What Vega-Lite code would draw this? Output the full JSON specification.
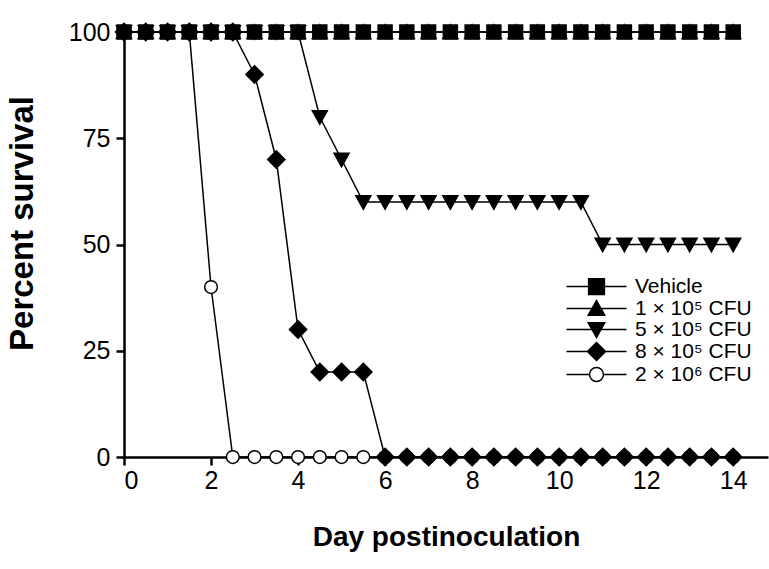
{
  "$schema": "https://vega.github.io/schema/vega-lite/v6.json",
  "width": 644,
  "height": 425,
  "autosize": {"type": "none"},
  "padding": {"left": 124, "top": 32, "right": 1, "bottom": 112},
  "background": "white",
  "config": {
    "font": "Liberation Sans",
    "view": {"stroke": null},
    "axis": {
      "domainColor": "black", "domainWidth": 2.5, "tickColor": "black", "tickWidth": 2.5,
      "tickSize": 8, "labelColor": "black", "labelFontSize": 25, "labelFont": "Liberation Sans",
      "titleColor": "black", "titleFontSize": 28, "titleFontWeight": "bold", "titleFont": "Liberation Sans",
      "grid": false
    }
  },
  "data": {"values": [
    {"day": 0, "pct": 100, "series": "2e6"}, {"day": 0.5, "pct": 100, "series": "2e6"}, {"day": 1, "pct": 100, "series": "2e6"}, {"day": 1.5, "pct": 100, "series": "2e6"}, {"day": 2, "pct": 40, "series": "2e6"}, {"day": 2.5, "pct": 0, "series": "2e6"}, {"day": 3, "pct": 0, "series": "2e6"}, {"day": 3.5, "pct": 0, "series": "2e6"}, {"day": 4, "pct": 0, "series": "2e6"}, {"day": 4.5, "pct": 0, "series": "2e6"}, {"day": 5, "pct": 0, "series": "2e6"}, {"day": 5.5, "pct": 0, "series": "2e6"}, {"day": 6, "pct": 0, "series": "2e6"}, {"day": 6.5, "pct": 0, "series": "2e6"}, {"day": 7, "pct": 0, "series": "2e6"}, {"day": 7.5, "pct": 0, "series": "2e6"}, {"day": 8, "pct": 0, "series": "2e6"}, {"day": 8.5, "pct": 0, "series": "2e6"}, {"day": 9, "pct": 0, "series": "2e6"}, {"day": 9.5, "pct": 0, "series": "2e6"}, {"day": 10, "pct": 0, "series": "2e6"}, {"day": 10.5, "pct": 0, "series": "2e6"}, {"day": 11, "pct": 0, "series": "2e6"}, {"day": 11.5, "pct": 0, "series": "2e6"}, {"day": 12, "pct": 0, "series": "2e6"}, {"day": 12.5, "pct": 0, "series": "2e6"}, {"day": 13, "pct": 0, "series": "2e6"}, {"day": 13.5, "pct": 0, "series": "2e6"}, {"day": 14, "pct": 0, "series": "2e6"},
    {"day": 0, "pct": 100, "series": "1e5"}, {"day": 0.5, "pct": 100, "series": "1e5"}, {"day": 1, "pct": 100, "series": "1e5"}, {"day": 1.5, "pct": 100, "series": "1e5"}, {"day": 2, "pct": 100, "series": "1e5"}, {"day": 2.5, "pct": 100, "series": "1e5"}, {"day": 3, "pct": 100, "series": "1e5"}, {"day": 3.5, "pct": 100, "series": "1e5"}, {"day": 4, "pct": 100, "series": "1e5"}, {"day": 4.5, "pct": 100, "series": "1e5"}, {"day": 5, "pct": 100, "series": "1e5"}, {"day": 5.5, "pct": 100, "series": "1e5"}, {"day": 6, "pct": 100, "series": "1e5"}, {"day": 6.5, "pct": 100, "series": "1e5"}, {"day": 7, "pct": 100, "series": "1e5"}, {"day": 7.5, "pct": 100, "series": "1e5"}, {"day": 8, "pct": 100, "series": "1e5"}, {"day": 8.5, "pct": 100, "series": "1e5"}, {"day": 9, "pct": 100, "series": "1e5"}, {"day": 9.5, "pct": 100, "series": "1e5"}, {"day": 10, "pct": 100, "series": "1e5"}, {"day": 10.5, "pct": 100, "series": "1e5"}, {"day": 11, "pct": 100, "series": "1e5"}, {"day": 11.5, "pct": 100, "series": "1e5"}, {"day": 12, "pct": 100, "series": "1e5"}, {"day": 12.5, "pct": 100, "series": "1e5"}, {"day": 13, "pct": 100, "series": "1e5"}, {"day": 13.5, "pct": 100, "series": "1e5"}, {"day": 14, "pct": 100, "series": "1e5"},
    {"day": 0, "pct": 100, "series": "5e5"}, {"day": 0.5, "pct": 100, "series": "5e5"}, {"day": 1, "pct": 100, "series": "5e5"}, {"day": 1.5, "pct": 100, "series": "5e5"}, {"day": 2, "pct": 100, "series": "5e5"}, {"day": 2.5, "pct": 100, "series": "5e5"}, {"day": 3, "pct": 100, "series": "5e5"}, {"day": 3.5, "pct": 100, "series": "5e5"}, {"day": 4, "pct": 100, "series": "5e5"}, {"day": 4.5, "pct": 80, "series": "5e5"}, {"day": 5, "pct": 70, "series": "5e5"}, {"day": 5.5, "pct": 60, "series": "5e5"}, {"day": 6, "pct": 60, "series": "5e5"}, {"day": 6.5, "pct": 60, "series": "5e5"}, {"day": 7, "pct": 60, "series": "5e5"}, {"day": 7.5, "pct": 60, "series": "5e5"}, {"day": 8, "pct": 60, "series": "5e5"}, {"day": 8.5, "pct": 60, "series": "5e5"}, {"day": 9, "pct": 60, "series": "5e5"}, {"day": 9.5, "pct": 60, "series": "5e5"}, {"day": 10, "pct": 60, "series": "5e5"}, {"day": 10.5, "pct": 60, "series": "5e5"}, {"day": 11, "pct": 50, "series": "5e5"}, {"day": 11.5, "pct": 50, "series": "5e5"}, {"day": 12, "pct": 50, "series": "5e5"}, {"day": 12.5, "pct": 50, "series": "5e5"}, {"day": 13, "pct": 50, "series": "5e5"}, {"day": 13.5, "pct": 50, "series": "5e5"}, {"day": 14, "pct": 50, "series": "5e5"},
    {"day": 0, "pct": 100, "series": "Vehicle"}, {"day": 0.5, "pct": 100, "series": "Vehicle"}, {"day": 1, "pct": 100, "series": "Vehicle"}, {"day": 1.5, "pct": 100, "series": "Vehicle"}, {"day": 2, "pct": 100, "series": "Vehicle"}, {"day": 2.5, "pct": 100, "series": "Vehicle"}, {"day": 3, "pct": 100, "series": "Vehicle"}, {"day": 3.5, "pct": 100, "series": "Vehicle"}, {"day": 4, "pct": 100, "series": "Vehicle"}, {"day": 4.5, "pct": 100, "series": "Vehicle"}, {"day": 5, "pct": 100, "series": "Vehicle"}, {"day": 5.5, "pct": 100, "series": "Vehicle"}, {"day": 6, "pct": 100, "series": "Vehicle"}, {"day": 6.5, "pct": 100, "series": "Vehicle"}, {"day": 7, "pct": 100, "series": "Vehicle"}, {"day": 7.5, "pct": 100, "series": "Vehicle"}, {"day": 8, "pct": 100, "series": "Vehicle"}, {"day": 8.5, "pct": 100, "series": "Vehicle"}, {"day": 9, "pct": 100, "series": "Vehicle"}, {"day": 9.5, "pct": 100, "series": "Vehicle"}, {"day": 10, "pct": 100, "series": "Vehicle"}, {"day": 10.5, "pct": 100, "series": "Vehicle"}, {"day": 11, "pct": 100, "series": "Vehicle"}, {"day": 11.5, "pct": 100, "series": "Vehicle"}, {"day": 12, "pct": 100, "series": "Vehicle"}, {"day": 12.5, "pct": 100, "series": "Vehicle"}, {"day": 13, "pct": 100, "series": "Vehicle"}, {"day": 13.5, "pct": 100, "series": "Vehicle"}, {"day": 14, "pct": 100, "series": "Vehicle"},
    {"day": 0, "pct": 100, "series": "8e5"}, {"day": 0.5, "pct": 100, "series": "8e5"}, {"day": 1, "pct": 100, "series": "8e5"}, {"day": 1.5, "pct": 100, "series": "8e5"}, {"day": 2, "pct": 100, "series": "8e5"}, {"day": 2.5, "pct": 100, "series": "8e5"}, {"day": 3, "pct": 90, "series": "8e5"}, {"day": 3.5, "pct": 70, "series": "8e5"}, {"day": 4, "pct": 30, "series": "8e5"}, {"day": 4.5, "pct": 20, "series": "8e5"}, {"day": 5, "pct": 20, "series": "8e5"}, {"day": 5.5, "pct": 20, "series": "8e5"}, {"day": 6, "pct": 0, "series": "8e5"}, {"day": 6.5, "pct": 0, "series": "8e5"}, {"day": 7, "pct": 0, "series": "8e5"}, {"day": 7.5, "pct": 0, "series": "8e5"}, {"day": 8, "pct": 0, "series": "8e5"}, {"day": 8.5, "pct": 0, "series": "8e5"}, {"day": 9, "pct": 0, "series": "8e5"}, {"day": 9.5, "pct": 0, "series": "8e5"}, {"day": 10, "pct": 0, "series": "8e5"}, {"day": 10.5, "pct": 0, "series": "8e5"}, {"day": 11, "pct": 0, "series": "8e5"}, {"day": 11.5, "pct": 0, "series": "8e5"}, {"day": 12, "pct": 0, "series": "8e5"}, {"day": 12.5, "pct": 0, "series": "8e5"}, {"day": 13, "pct": 0, "series": "8e5"}, {"day": 13.5, "pct": 0, "series": "8e5"}, {"day": 14, "pct": 0, "series": "8e5"}
  ]},
  "encoding": {
    "x": {"field": "day", "type": "quantitative",
      "scale": {"domain": [0, 14.8], "nice": false, "zero": false},
      "axis": {"values": [0, 2, 4, 6, 8, 10, 12, 14], "title": "Day postinoculation", "labelPadding": 3, "titlePadding": 30}},
    "y": {"field": "pct", "type": "quantitative",
      "scale": {"domain": [0, 100], "nice": false},
      "axis": {"values": [0, 25, 50, 75, 100], "title": "Percent survival", "labelPadding": 6, "titlePadding": 29, "titleFontSize": 33, "titleY": 191}}
  },
  "layer": [
    {
      "mark": {"type": "line", "color": "black", "strokeWidth": 1.5},
      "encoding": {"detail": {"field": "series"}}
    },
    {
      "mark": {"type": "point", "filled": true, "stroke": "black", "strokeWidth": 1.5, "size": 225, "opacity": 1},
      "encoding": {
        "shape": {"field": "series", "type": "nominal", "legend": null,
          "scale": {"domain": ["Vehicle", "1e5", "5e5", "8e5", "2e6"],
            "range": ["M-0.93,-0.93H0.93V0.93H-0.93Z", "M0,-0.95L1,0.85H-1Z", "M0,0.95L1,-0.85H-1Z", "M0,-1.15L1.15,0L0,1.15L-1.15,0Z", "M0.85,0A0.85,0.85 0 1 1 -0.85,0A0.85,0.85 0 1 1 0.85,0Z"]}},
        "fill": {"field": "series", "type": "nominal", "legend": null,
          "scale": {"domain": ["Vehicle", "1e5", "5e5", "8e5", "2e6"], "range": ["black", "black", "black", "black", "white"]}}
      }
    },
    {
      "transform": [{"filter": "false"}],
      "mark": {"type": "point", "filled": true, "stroke": "black", "strokeWidth": 1.5, "size": 225, "opacity": 1},
      "encoding": {
        "shape": {"field": "series", "type": "nominal",
          "scale": {"domain": ["Vehicle", "1e5", "5e5", "8e5", "2e6"],
            "range": ["M-4,0H4M-1.05,-1.05H1.05V1.05H-1.05Z", "M-4,0H4M0,-1.05L1.1,0.9H-1.1Z", "M-4,0H4M0,1.05L1.1,-0.9H-1.1Z", "M-4,0H4M0,-1.2L1.2,0L0,1.2L-1.2,0Z", "M-4,0H-0.93M0.93,0H4M0.93,0A0.93,0.93 0 1 1 -0.93,0A0.93,0.93 0 1 1 0.93,0Z"]},
          "legend": {"title": null, "orient": "none", "legendX": 462, "legendY": 244, "padding": 0,
            "labelFontSize": 21, "labelColor": "black", "labelFont": "Liberation Sans", "labelOffset": 28,
            "rowPadding": -2, "symbolSize": 225,
            "encode": {"symbols": {"update": {"stroke": {"value": "black"}, "strokeWidth": {"value": 1.5}, "opacity": {"value": 1}}}},
            "labelExpr": "datum.value == 'Vehicle' ? 'Vehicle' : datum.value == '1e5' ? '1 × 10⁵ CFU' : datum.value == '5e5' ? '5 × 10⁵ CFU' : datum.value == '8e5' ? '8 × 10⁵ CFU' : '2 × 10⁶ CFU'"}},
        "fill": {"field": "series", "type": "nominal",
          "scale": {"domain": ["Vehicle", "1e5", "5e5", "8e5", "2e6"], "range": ["black", "black", "black", "black", "white"]},
          "legend": {"title": null, "orient": "none", "legendX": 462, "legendY": 244, "padding": 0,
            "labelFontSize": 21, "labelColor": "black", "labelFont": "Liberation Sans", "labelOffset": 28,
            "rowPadding": -2, "symbolSize": 225,
            "encode": {"symbols": {"update": {"stroke": {"value": "black"}, "strokeWidth": {"value": 1.5}, "opacity": {"value": 1}}}},
            "labelExpr": "datum.value == 'Vehicle' ? 'Vehicle' : datum.value == '1e5' ? '1 × 10⁵ CFU' : datum.value == '5e5' ? '5 × 10⁵ CFU' : datum.value == '8e5' ? '8 × 10⁵ CFU' : '2 × 10⁶ CFU'"}}
      }
    }
  ],
  "resolve": {"scale": {"shape": "independent", "fill": "independent"}}
}
